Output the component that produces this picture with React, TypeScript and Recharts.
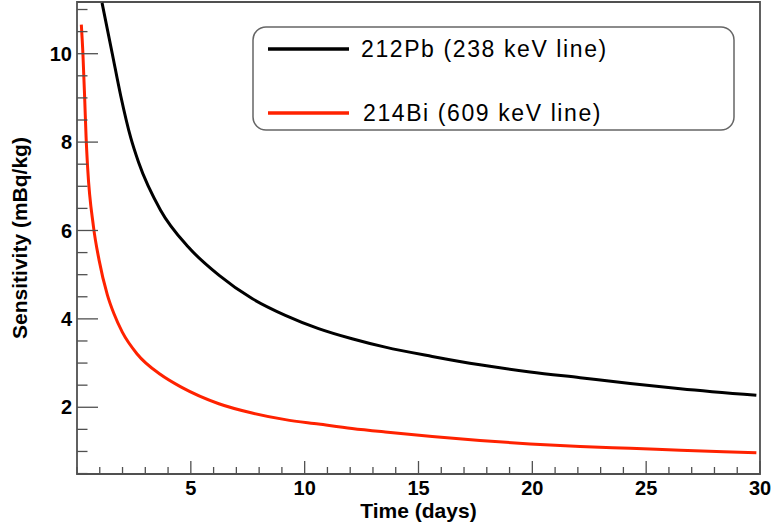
import React from "react";
import { LineChart, Line, XAxis, YAxis, ReferenceArea, Legend, Label } from "recharts";

// time (days) and sensitivity (mBq/kg)
const pbDays = [1.1, 1.55, 1.92, 2.36, 2.7, 3.67, 4.9, 6.23, 7.69, 9.15, 10.61, 12.08, 13.54, 15.6, 17.7, 19.9, 22.1, 24.3, 26.5, 29.84];
const pbSensitivity = [11.15, 10.0, 9.05, 8.1, 7.55, 6.46, 5.62, 4.99, 4.46, 4.08, 3.78, 3.55, 3.36, 3.15, 2.96, 2.8, 2.67, 2.54, 2.42, 2.27];

const biDays = [0.19, 0.26, 0.34, 0.4, 0.47, 0.72, 0.97, 1.33, 1.62, 1.99, 2.65, 3.67, 4.6, 6.23, 7.69, 9.15, 10.61, 12.08, 13.54, 15.6, 17.7, 19.9, 22.1, 24.3, 26.5, 29.84];
const biSensitivity = [10.66, 10.0, 8.95, 8.1, 7.4, 6.1, 5.33, 4.55, 4.12, 3.7, 3.2, 2.74, 2.45, 2.08, 1.87, 1.72, 1.62, 1.52, 1.44, 1.34, 1.25, 1.17, 1.11, 1.07, 1.03, 0.97];

const seriesNames = ["212Pb (238 keV line)", "214Bi (609 keV line)"];

const xMajorTicks = [5, 10, 15, 20, 25, 30];
const xAllTicks = [0, 1, 2, 3, 4, 5, 6, 7, 8, 9, 10, 11, 12, 13, 14, 15, 16, 17, 18, 19, 20, 21, 22, 23, 24, 25, 26, 27, 28, 29, 30];
const yMajorTicks = [2, 4, 6, 8, 10];
const yAllTicks = [0.5, 1, 1.5, 2, 2.5, 3, 3.5, 4, 4.5, 5, 5.5, 6, 6.5, 7, 7.5, 8, 8.5, 9, 9.5, 10, 10.5, 11];

const pbData = pbDays.map((t, i) => ({ t, v: pbSensitivity[i] }));
const biData = biDays.map((t, i) => ({ t, v: biSensitivity[i] }));

const X_MIN = 0;
const X_MAX = 30;
const Y_MIN = 0.49;
const Y_MAX = 11.17;

const frameColor = "#505050";
const font = "'Liberation Sans', Arial, Helvetica, sans-serif";

const XTick = (props: any) => {
  const { x, y, payload } = props;
  const major = xMajorTicks.includes(payload.value);
  return (
    <g>
      <line x1={x} x2={x} y1={y} y2={y - (major ? 13 : 7)} stroke={frameColor} strokeWidth={1.3} />
      {major && (
        <text x={x} y={y + 21} textAnchor="middle" fontFamily={font} fontWeight="bold" fontSize={20} fill="#000">
          {payload.value}
        </text>
      )}
    </g>
  );
};

const YTick = (props: any) => {
  const { x, y, payload } = props;
  const major = yMajorTicks.includes(payload.value);
  return (
    <g>
      <line x1={x} x2={x + (major ? 21 : 10.5)} y1={y} y2={y} stroke={frameColor} strokeWidth={1.3} />
      {major && (
        <text x={x - 5} y={y} dy="0.36em" textAnchor="end" fontFamily={font} fontWeight="bold" fontSize={20} fill="#000">
          {payload.value}
        </text>
      )}
    </g>
  );
};

const LegendBox = (props: any) => {
  const { payload } = props;
  return (
    <svg width={484} height={106} style={{ display: "block" }}>
      <rect x={1} y={1} width={481} height={103} rx={13} ry={13} fill="#fff" stroke="#666" strokeWidth={1.5} />
      {(payload || []).map((entry: any, i: number) => {
        const cy = 23 + i * 64;
        return (
          <g key={`leg-${i}`}>
            <line x1={16} x2={97} y1={cy} y2={cy} stroke={entry.color} strokeWidth={3.5} />
            <text x={109 + i * 2} y={cy} dy="0.36em" fontFamily={font} fontSize={23} letterSpacing={1.6} fill="#000">
              {entry.value}
            </text>
          </g>
        );
      })}
    </svg>
  );
};

export default function App() {
  return (
    <div style={{ position: "absolute", left: 0, top: 0, background: "#fff" }}>
      <LineChart width={774} height={529} margin={{ top: 2, right: 14, bottom: 0, left: 0 }}>
        <XAxis
          type="number"
          dataKey="t"
          domain={[X_MIN, X_MAX]}
          ticks={xAllTicks}
          interval={0}
          height={55}
          tickSize={0}
          tickMargin={0}
          tickLine={false}
          axisLine={false}
          tick={<XTick />}
          allowDataOverflow
        >
          <Label
            value="Time (days)"
            position="insideBottom"
            offset={11}
            style={{ fontFamily: font, fontWeight: "bold", fontSize: 21, fill: "#000" }}
          />
        </XAxis>
        <YAxis
          type="number"
          domain={[Y_MIN, Y_MAX]}
          ticks={yAllTicks}
          interval={0}
          width={77}
          tickSize={0}
          tickMargin={0}
          tickLine={false}
          axisLine={false}
          tick={<YTick />}
          allowDataOverflow
        >
          <Label
            value="Sensitivity (mBq/kg)"
            angle={-90}
            position="insideLeft"
            offset={20}
            style={{ fontFamily: font, fontWeight: "bold", fontSize: 21, fill: "#000", textAnchor: "middle" }}
          />
        </YAxis>
        <ReferenceArea
          x1={X_MIN}
          x2={X_MAX}
          y1={Y_MIN}
          y2={Y_MAX}
          fill="none"
          fillOpacity={0}
          stroke={frameColor}
          strokeWidth={1.8}
          ifOverflow="visible"
        />
        <Legend
          layout="vertical"
          align="center"
          verticalAlign="middle"
          content={<LegendBox />}
          wrapperStyle={{ position: "absolute", left: 252, top: 26, width: 484, height: 106 }}
        />
        <Line
          data={pbData}
          dataKey="v"
          name={seriesNames[0]}
          type="monotone"
          stroke="#000"
          strokeWidth={3}
          dot={false}
          activeDot={false}
          isAnimationActive={false}
        />
        <Line
          data={biData}
          dataKey="v"
          name={seriesNames[1]}
          type="monotone"
          stroke="#ff2200"
          strokeWidth={3}
          dot={false}
          activeDot={false}
          isAnimationActive={false}
        />
      </LineChart>
    </div>
  );
}
